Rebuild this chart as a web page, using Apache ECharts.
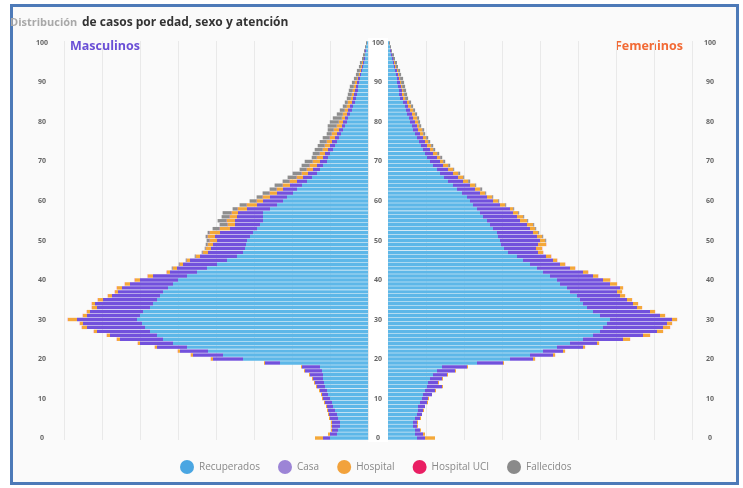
<!DOCTYPE html>
<html><head><meta charset="utf-8">
<script src="https://cdn.jsdelivr.net/npm/echarts@6/dist/echarts.min.js"></script>
<style>html,body{margin:0;padding:0;background:#fff}#c{width:743px;height:488px}</style>
</head><body><div id="c"></div>
<script>
// Age categories (0..100)
const ages = ['0','1','2','3','4','5','6','7','8','9','10','11','12','13','14','15','16','17','18','19','20','21','22','23','24','25','26','27','28','29','30','31','32','33','34','35','36','37','38','39','40','41','42','43','44','45','46','47','48','49','50','51','52','53','54','55','56','57','58','59','60','61','62','63','64','65','66','67','68','69','70','71','72','73','74','75','76','77','78','79','80','81','82','83','84','85','86','87','88','89','90','91','92','93','94','95','96','97','98','99','100'];
const seriesNames = ['Recuperados','Casa','Hospital','Hospital UCI','Fallecidos'];

// Masculinos
const mRec = [38,31,30,28,28,30,31,33,35,36, 38,40,41,43,44,45,45,46,48,88, 125,145,160,181,195,205,211,218,223,226, 231,228,225,218,215,211,208,205,200,195, 190,181,171,161,151,141,131,125,123,122, 121,118,115,111,108,105,105,105,98,91, 85,81,75,71,66,61,56,51,48,45, 41,40,38,35,33,31,29,27,25,23, 21,20,18,16,15,13,12,11,10,10, 9,8,7,6,5,4,3,3,2,2,1];
const mCasa = [7,7,6,8,8,8,8,7,6,7, 7,6,7,8,9,10,13,17,18,15, 30,30,28,30,33,43,47,53,58,59, 60,53,53,53,58,54,48,45,46,43, 38,34,27,30,34,37,37,35,34,33, 30,35,33,27,25,28,26,25,23,20, 20,17,16,14,12,10,9,9,7,6, 7,5,5,5,5,5,4,4,4,3, 4,3,3,4,3,3,3,3,3,2, 2,2,1,1,1,1,1,0,1,0,0];
const mHosp = [8,2,1,1,1,1,1,1,1,1, 1,1,1,1,1,1,1,1,1,1, 2,2,2,2,2,3,3,3,5,3, 9,4,3,5,3,5,4,3,5,5, 5,5,3,4,3,3,4,5,5,5, 7,7,10,10,7,8,7,6,9,10, 6,7,7,6,7,7,6,6,6,7, 7,6,5,5,5,5,5,5,5,5, 4,3,4,3,3,4,2,2,2,2, 2,1,1,1,1,1,0,0,0,0,0];
const mUci = [0,0,0,0,0,0,0,0,0,0, 0,0,0,0,0,0,0,0,0,0, 0.2,0.2,0.2,0.2,0.2,0.2,0.2,0.2,0.2,0.2, 0.2,0.2,0.2,0.2,0.2,0.2,0.2,0.2,0.2,0.2, 0.3,0.3,0.3,0.3,0.3,0.3,0.3,0.3,0.3,0.3, 0.4,0.4,0.4,0.4,0.4,0.4,0.4,0.4,0.4,0.4, 0.4,0.4,0.4,0.4,0.4,0.4,0.4,0.4,0.4,0.4, 0.3,0.3,0.3,0.3,0.3,0.3,0.3,0.3,0.3,0.3, 0.2,0.2,0.2,0.2,0.2,0.2,0.2,0.2,0.2,0.2, 0.1,0.1,0.1,0.1,0.1,0.1,0,0,0,0,0];
const mFall = [0,0,0,0,0,0,0,0,0,0, 0,0,0,0,0,0,0,0,0,0, 0,0,0,0,0,0,0,0,0,0, 0,0,0,0,0,0,0,0,0,0, 0,0,0,1,1,1,1,1,1,2, 3,2,2,7,8,9,8,9,5,7, 7,6,7,7,8,7,9,9,7,8, 8,5,7,8,7,7,7,5,6,9, 9,9,6,5,4,3,4,4,4,4, 3,3,3,3,2,2,2,2,1,1,1];

// Femeninos
const fRec = [29,27,27,25,25,27,29,30,30,32, 34,35,37,39,40,42,45,49,54,89, 122,142,155,169,182,195,205,212,215,219, 222,212,205,199,195,192,189,182,179,172, 169,162,155,149,142,135,129,120,116,113, 112,110,109,105,102,99,95,92,89,85, 82,79,74,69,65,60,56,52,49,45, 42,39,37,35,33,31,29,27,25,24, 22,21,19,18,17,15,12,11,11,10, 9,9,8,7,6,5,4,3,2,2,1];
const fCasa = [8,8,5,4,4,5,5,5,7,7, 6,9,10,15,10,12,14,18,25,26, 23,23,20,26,27,40,50,57,60,60, 62,60,57,50,50,47,43,47,53,50, 46,43,40,33,30,30,29,30,32,37, 40,39,36,37,37,33,34,33,33,27, 23,20,18,18,17,15,14,13,11,10, 10,10,8,7,6,6,6,5,5,5, 5,4,5,4,3,4,3,3,3,3, 3,2,2,2,1,1,1,1,1,0,0];
const fHosp = [10,2,1,1,1,1,0,1,0,1, 1,0,1,1,1,1,1,1,1,1, 2,2,2,2,2,7,7,6,7,5, 5,5,5,5,5,5,5,5,3,7, 7,5,5,5,5,4,5,5,6,8, 5,5,5,5,6,7,6,5,3,5, 5,5,5,5,5,5,5,5,5,5, 3,3,4,3,4,3,3,3,4,2, 3,4,3,3,3,2,2,2,1,1, 1,1,1,1,1,1,0,0,0,0,0];
const fUci = [0,0,0,0,0,0,0,0,0,0, 0,0,0,0,0,0,0,0,0,0, 0.1,0.1,0.1,0.1,0.1,0.1,0.1,0.1,0.1,0.1, 0.1,0.1,0.1,0.1,0.1,0.1,0.1,0.1,0.1,0.1, 0.2,0.2,0.2,0.2,0.2,0.2,0.2,0.2,0.2,0.2, 0.2,0.2,0.2,0.2,0.2,0.2,0.2,0.2,0.2,0.2, 0.2,0.2,0.2,0.2,0.2,0.2,0.2,0.2,0.2,0.2, 0.2,0.2,0.2,0.2,0.2,0.2,0.2,0.2,0.2,0.2, 0.1,0.1,0.1,0.1,0.1,0.1,0.1,0.1,0.1,0.1, 0.1,0.1,0.1,0.1,0,0,0,0,0,0,0];
const fFall = [0,0,0,0,0,0,0,0,0,0, 0,0,0,0,0,0,0,0,0,0, 0,0,0,0,0,0,0,0,0,0, 0,0,0,0,0,0,0,0,0,0, 0,0,0,0,0,0,0,0,0,0, 1,1,1,1,1,1,1,1,1,1, 1,1,1,2,1,2,1,2,1,2, 2,2,2,2,2,2,2,2,2,2, 2,2,2,2,2,2,3,3,3,3, 3,3,2,2,2,2,2,2,1,1,1];

const colors = ['#5db7e8','#7251dc','#f4a83a','#e91e63','#8e8e8e'];
const legendColors = ['#4aa6e2','#9c84d6','#f2a23c','#e91e63','#8a8a8a'];
const mData = [mRec, mCasa, mHosp, mUci, mFall];
const fData = [fRec, fCasa, fHosp, fUci, fFall];
const FONT = '"Open Sans", "Noto Sans", sans-serif';

const chart = echarts.init(document.getElementById('c'), null, {renderer:'canvas'});

const xCommon = {
  type:'value', min:0, max:304, interval:38,
  axisLabel:{show:false}, axisLine:{show:false}, axisTick:{show:false},
  splitLine:{show:true, lineStyle:{color:'#e9e9e9', width:1}}
};
const yCommon = {
  type:'category', data:ages,
  axisLine:{show:false}, axisTick:{show:false}, splitLine:{show:false},
  axisLabel:{interval:9, align:'center', fontSize:7, color:'#666', fontWeight:'bold', fontFamily:FONT}
};

const series = [];
seriesNames.forEach((n,i)=>{
  series.push({name:n, type:'bar', stack:'m', xAxisIndex:0, yAxisIndex:0,
    data:mData[i], itemStyle:{color:colors[i]}, barCategoryGap:'14%'});
});
seriesNames.forEach((n,i)=>{
  series.push({name:n, type:'bar', stack:'f', xAxisIndex:1, yAxisIndex:2,
    data:fData[i], itemStyle:{color:colors[i]}, barCategoryGap:'14%'});
});

chart.setOption({
  animation:false,
  backgroundColor:'#ffffff',
  textStyle:{fontFamily:FONT},
  graphic:[
    {type:'rect', z:-100, shape:{x:11.5,y:5.5,width:726,height:478}, style:{fill:'#fafafa', stroke:'#4d7ab8', lineWidth:3}},
    {type:'rect', z:-90, shape:{x:368,y:38,width:20,height:404}, style:{fill:'#ffffff'}},
    {type:'text', left:70, top:40, style:{text:'Masculinos', fill:'#6a4fd6', font:'bold 12.5px '+FONT}},
    {type:'text', right:60, top:40, style:{text:'Femeninos', fill:'#f26a35', font:'bold 12.5px '+FONT}}
  ],
  title:{
    text:'{a|Distribución} {b|de casos por edad, sexo y atención}',
    left:10, top:14, padding:0,
    textStyle:{rich:{
      a:{color:'#a8a8a8', fontSize:11, fontFamily:FONT},
      b:{color:'#333', fontSize:12, fontWeight:'bold', fontFamily:FONT}
    }}
  },
  legend:{
    data:seriesNames.map((n,i)=>({name:n, itemStyle:{color:legendColors[i]}})),
    icon:'circle', left:175, top:455, itemWidth:14, itemHeight:14, itemGap:18,
    textStyle:{color:'#888', fontSize:10, fontFamily:FONT}
  },
  grid:[
    {left:64, width:304, top:41, height:399},
    {left:388, width:304, top:41, height:399}
  ],
  xAxis:[
    Object.assign({}, xCommon, {gridIndex:0, inverse:true}),
    Object.assign({}, xCommon, {gridIndex:1})
  ],
  yAxis:[
    Object.assign({}, yCommon, {gridIndex:0, position:'right', axisLabel:Object.assign({}, yCommon.axisLabel, {margin:10})}),
    Object.assign({}, yCommon, {gridIndex:0, position:'left', axisLabel:Object.assign({}, yCommon.axisLabel, {margin:22})}),
    Object.assign({}, yCommon, {gridIndex:1, position:'right', axisLabel:Object.assign({}, yCommon.axisLabel, {margin:18})})
  ],
  series:series
});
</script></body></html>
